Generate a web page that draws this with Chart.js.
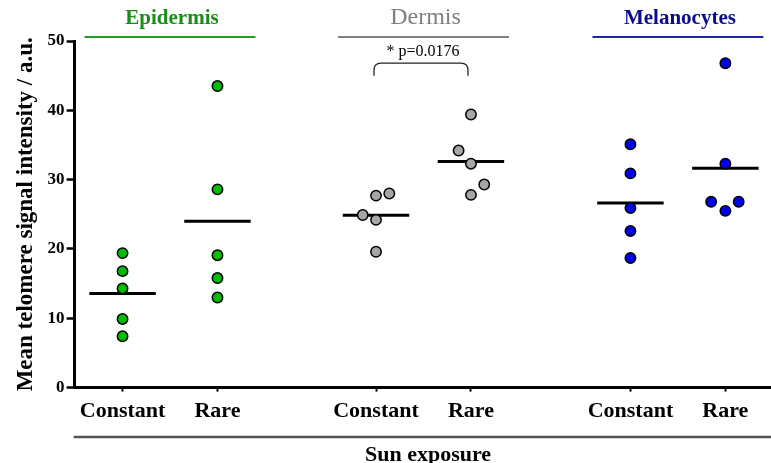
<!DOCTYPE html>
<html><head><meta charset="utf-8">
<script src="https://cdn.jsdelivr.net/npm/chart.js@4/dist/chart.umd.min.js"></script>
<style>html,body{margin:0;padding:0;background:#fff;overflow:hidden}#wrap{position:relative;width:771px;height:463px}</style>
</head><body><div id="wrap"><canvas id="c"></canvas></div>
<script>
// ---- data ----
const groups = ['Epidermis', 'Dermis', 'Melanocytes'];
const exposures = ['Constant', 'Rare'];
const yTicks = [0, 10, 20, 30, 40, 50];
const epidermisConstant = [19.4, 16.8, 14.3, 9.9, 7.4];
const epidermisRare = [43.5, 28.6, 19.1, 15.8, 13.0];
const dermisConstant = [27.7, 28.0, 24.9, 24.2, 19.6];
const dermisRare = [39.4, 34.2, 32.3, 29.3, 27.8];
const melanocytesConstant = [35.1, 30.9, 25.9, 22.6, 18.7];
const melanocytesRare = [46.8, 32.3, 26.8, 25.5, 26.8];
const pValueLabel = '* p=0.0176';
const xTitle = 'Sun exposure';
const yTitle = 'Mean telomere signal intensity / a.u.';

// ---- layout (positions / styles, not data) ----
const columnPos = [1, 2, 3.67, 4.67, 6.35, 7.35];
const jitter = [
  [0, 0, 0, 0, 0],
  [0, 0, 0, 0, 0],
  [0, 0.14, -0.14, 0, 0],
  [0, -0.13, 0, 0.14, 0],
  [0, 0, 0, 0, 0],
  [0, 0, -0.15, 0, 0.14]
];
const fills = ['#00bb00', '#00bb00', '#a6a6a6', '#a6a6a6', '#0000f0', '#0000f0'];
const titleColors = ['#1a8c1a', '#808080', '#0b0b8c'];
const lineColors = ['#2a9a2a', '#808080', '#2222a8'];
const titleWeights = ['bold', 'normal', 'bold'];
const titleSizes = [21, 24, 21];
const SERIF = '"Liberation Serif", "Times New Roman", serif';

const columns = [epidermisConstant, epidermisRare, dermisConstant, dermisRare, melanocytesConstant, melanocytesRare];
const mean = a => a.reduce((s, v) => s + v, 0) / a.length;

const datasets = [];
columns.forEach((vals, c) => {
  const m = mean(vals);
  datasets.push({
    type: 'line',
    data: [{x: columnPos[c] - 0.35, y: m}, {x: columnPos[c] + 0.35, y: m}],
    borderColor: '#000', borderWidth: 3, pointRadius: 0, showLine: true, order: 2
  });
  datasets.push({
    type: 'scatter',
    data: vals.map((v, i) => ({x: columnPos[c] + jitter[c][i], y: v})),
    backgroundColor: fills[c], borderColor: '#000', borderWidth: 1.5,
    pointRadius: 5.2, pointHoverRadius: 5.2, order: 1
  });
});

const decor = {
  id: 'decor',
  afterDraw(chart) {
    const ctx = chart.ctx, xs = chart.scales.x, ys = chart.scales.y, ca = chart.chartArea;
    ctx.save();
    // extend x axis line to the right edge
    const by = Math.round(xs.top - 1.5) + 1.5;
    ctx.strokeStyle = '#000'; ctx.lineWidth = 3; ctx.lineCap = 'butt';
    ctx.beginPath(); ctx.moveTo(ca.right - 2, by); ctx.lineTo(chart.width, by); ctx.stroke();
    // group titles + underlines
    groups.forEach((g, k) => {
      const c = (xs.getPixelForValue(columnPos[2*k]) + xs.getPixelForValue(columnPos[2*k+1])) / 2;
      const half = (xs.getPixelForValue(0.9) - xs.getPixelForValue(0));
      ctx.fillStyle = titleColors[k];
      ctx.font = titleWeights[k] + ' ' + titleSizes[k] + 'px ' + SERIF;
      ctx.textAlign = 'center'; ctx.textBaseline = 'alphabetic';
      ctx.fillText(g, c + 2, ca.top - 17);
      ctx.strokeStyle = lineColors[k]; ctx.lineWidth = 2;
      ctx.beginPath(); ctx.moveTo(c - half, ca.top - 4); ctx.lineTo(c + half, ca.top - 4); ctx.stroke();
    });
    // significance bracket
    const xl = xs.getPixelForValue(columnPos[2]) - 2, xr = xs.getPixelForValue(columnPos[3]) - 3;
    const yt = ys.getPixelForValue(46.8), yb = ys.getPixelForValue(45.0), r = 7;
    ctx.strokeStyle = '#222'; ctx.lineWidth = 1.3;
    ctx.beginPath();
    ctx.moveTo(xl, yb); ctx.lineTo(xl, yt + r); ctx.quadraticCurveTo(xl, yt, xl + r, yt);
    ctx.lineTo(xr - r, yt); ctx.quadraticCurveTo(xr, yt, xr, yt + r); ctx.lineTo(xr, yb);
    ctx.stroke();
    ctx.fillStyle = '#000'; ctx.font = 'normal 16px ' + SERIF; ctx.textAlign = 'center'; ctx.textBaseline = 'middle';
    ctx.fillText(pValueLabel, (xl + xr) / 2 + 2, ys.getPixelForValue(48.4));
    // x title with rule
    ctx.strokeStyle = '#555'; ctx.lineWidth = 2.5;
    ctx.beginPath(); ctx.moveTo(ca.left - 1, 437); ctx.lineTo(chart.width, 437); ctx.stroke();
    ctx.fillStyle = '#000'; ctx.font = 'bold 22px ' + SERIF; ctx.textAlign = 'center'; ctx.textBaseline = 'alphabetic';
    ctx.fillText(xTitle, 428, 461);
    ctx.restore();
  }
};

new Chart(document.getElementById('c'), {
  type: 'scatter',
  data: {datasets},
  options: {
    responsive: true, maintainAspectRatio: false, animation: false,
    layout: {padding: {top: 41, right: 0, bottom: 31, left: 12}},
    plugins: {legend: {display: false}, tooltip: {enabled: false}},
    scales: {
      x: {
        type: 'linear', min: 0.495, max: 7.76,
        afterBuildTicks: axis => { axis.ticks = columnPos.map(v => ({value: v})); },
        ticks: {
          autoSkip: false, maxRotation: 0, padding: 7, color: '#000',
          font: {family: SERIF, size: 22, weight: 'bold'},
          callback: (v, i) => exposures[i % 2]
        },
        grid: {drawOnChartArea: false, drawTicks: true, tickLength: 4, tickWidth: 2, tickColor: '#000'},
        border: {display: true, color: '#000', width: 3}
      },
      y: {
        min: 0, max: 50,
        afterBuildTicks: axis => { axis.ticks = yTicks.map(v => ({value: v})); },
        ticks: {color: '#000', padding: 2, font: {family: SERIF, size: 17, weight: 'bold'}},
        grid: {drawOnChartArea: false, drawTicks: true, tickLength: 8, tickWidth: 2.5, tickColor: '#000'},
        border: {display: true, color: '#000', width: 3},
        title: {display: true, text: yTitle, color: '#000', padding: {top: 0, bottom: 6},
                font: {family: SERIF, size: 23, weight: 'bold'}}
      }
    }
  },
  plugins: [decor]
});
</script></body></html>
